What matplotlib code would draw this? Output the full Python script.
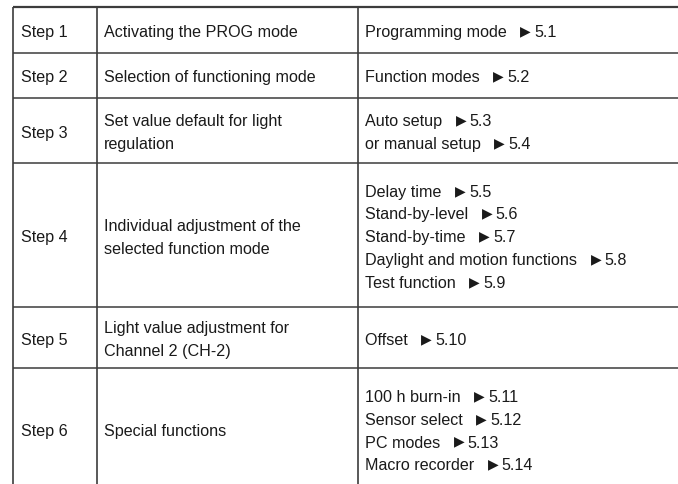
import matplotlib
matplotlib.use("Agg")
import matplotlib.pyplot as plt

# ---------------------------------------------------------------------------
# Table content
# ---------------------------------------------------------------------------
steps = ["Step 1", "Step 2", "Step 3", "Step 4", "Step 5", "Step 6"]

descriptions = [
    ["Activating the PROG mode"],
    ["Selection of functioning mode"],
    ["Set value default for light", "regulation"],
    ["Individual adjustment of the", "selected function mode"],
    ["Light value adjustment for", "Channel 2 (CH-2)"],
    ["Special functions"],
]

references = [
    [("Programming mode", "5.1")],
    [("Function modes", "5.2")],
    [("Auto setup", "5.3"), ("or manual setup", "5.4")],
    [("Delay time", "5.5"), ("Stand-by-level", "5.6"), ("Stand-by-time", "5.7"),
     ("Daylight and motion functions", "5.8"), ("Test function", "5.9")],
    [("Offset", "5.10")],
    [("100 h burn-in", "5.11"), ("Sensor select", "5.12"),
     ("PC modes", "5.13"), ("Macro recorder", "5.14")],
]

# ---------------------------------------------------------------------------
# Layout (pixels)
# ---------------------------------------------------------------------------
W, H = 678, 485
ROW_EDGES = [8, 53.5, 99, 164, 308, 369, 491]
COL_EDGES = [13, 97, 358, 700]
TEXT_X = [21, 104, 365]
LINE_STEP = 22.7
BASE_OFF = 6.2
FONT = ["Liberation Sans", "DejaVu Sans"]
FS = 11.6
LINE_COLOR = "#3c3c3c"
TEXT_COLOR = "#1a1a1a"

fig = plt.figure(figsize=(W / 100, H / 100), dpi=100)
ax = fig.add_axes([0, 0, 1, 1])
ax.set_xlim(0, W)
ax.set_ylim(H, 0)
ax.axis("off")

# grid lines
ax.plot([COL_EDGES[0], COL_EDGES[-1]], [ROW_EDGES[0]] * 2, color=LINE_COLOR, lw=1.6,
        solid_capstyle="butt")
for y in ROW_EDGES[1:-1]:
    ax.plot([COL_EDGES[0], COL_EDGES[-1]], [y, y], color=LINE_COLOR, lw=1.1,
            solid_capstyle="butt")
for x in COL_EDGES[:-1]:
    ax.plot([x, x], [ROW_EDGES[0], ROW_EDGES[-1]], color=LINE_COLOR, lw=1.2,
            solid_capstyle="butt")

fig.canvas.draw()
inv = ax.transData.inverted()


def put_lines(x, y_mid, items):
    n = len(items)
    for i, item in enumerate(items):
        yb = y_mid + (i - (n - 1) / 2) * LINE_STEP + BASE_OFF
        if isinstance(item, tuple):
            label, ref = item
            t = ax.text(x, yb, label + "   ", family=FONT, fontsize=FS,
                        color=TEXT_COLOR, va="baseline", ha="left")
            bb = t.get_window_extent(renderer=fig.canvas.get_renderer())
            x2 = inv.transform((bb.x1, 0))[0]
            ax.text(x2, yb - 1.8, "\u25B6", family=FONT, fontsize=FS * 0.86,
                    color=TEXT_COLOR, va="baseline", ha="left")
            ax.text(x2 + 14, yb, ref, family=FONT, fontsize=FS,
                    color=TEXT_COLOR, va="baseline", ha="left")
        else:
            ax.text(x, yb, item, family=FONT, fontsize=FS, color=TEXT_COLOR,
                    va="baseline", ha="left")


for r in range(len(steps)):
    y_mid = (ROW_EDGES[r] + ROW_EDGES[r + 1]) / 2
    put_lines(TEXT_X[0], y_mid, [steps[r]])
    put_lines(TEXT_X[1], y_mid, descriptions[r])
    put_lines(TEXT_X[2], y_mid, references[r])

fig.savefig("out.png", dpi=100, facecolor="white")
